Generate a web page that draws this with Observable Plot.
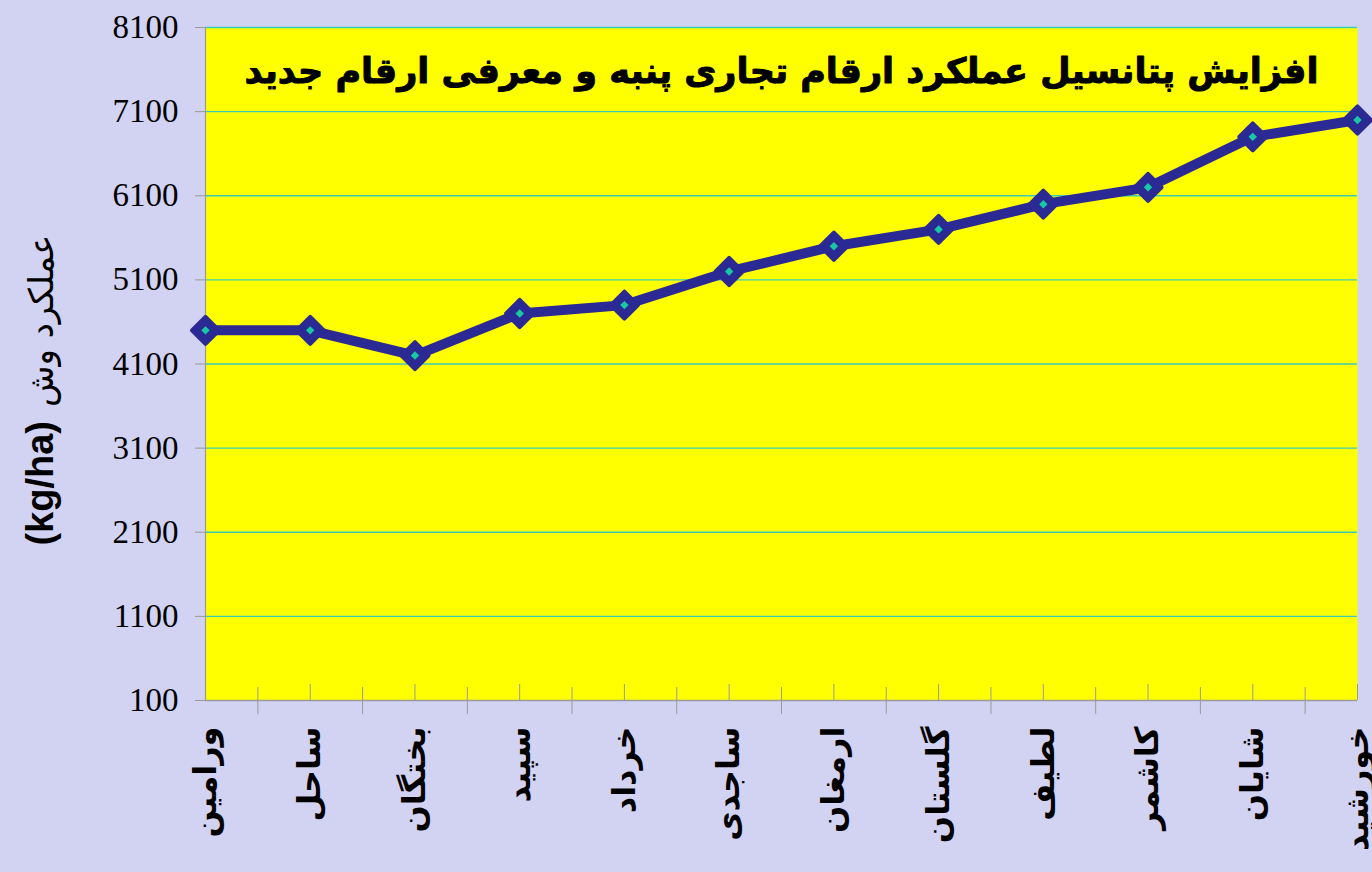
<!DOCTYPE html>
<html>
<head>
<meta charset="utf-8">
<script src="https://cdn.jsdelivr.net/npm/d3@7"></script>
<script src="https://cdn.jsdelivr.net/npm/@observablehq/plot@0.6"></script>
<style>
  html, body { margin: 0; padding: 0; background: #d2d2f3; }
  #wrap { position: relative; width: 1372px; height: 872px; overflow: hidden; }
  #ylabel {
    position: absolute; left: 40px; top: 390px;
    transform: translate(-50%, -50%) rotate(-90deg);
    white-space: nowrap; color: #000; direction: ltr;
  }
  #ylabel .en { font-family: "Liberation Sans", Arial, sans-serif; font-weight: bold; font-size: 38px; }
  #ylabel .fa { font-family: "DejaVu Sans", sans-serif; font-size: 34px; margin-left: 10px; }
</style>
</head>
<body>
<div id="wrap">
  <div id="chart"></div>
  <div id="ylabel"><span class="en">(kg/ha)</span> <span class="fa">عملکرد وش</span></div>
</div>
<script>
const categories = ["ورامین","ساحل","بختگان","سپید","خرداد","ساجدی","ارمغان","گلستان","لطیف","کاشمر","شایان","خورشید"];
const yields = [4500, 4500, 4200, 4700, 4800, 5200, 5500, 5700, 6000, 6200, 6800, 7000];
const yTicks = [100, 1100, 2100, 3100, 4100, 5100, 6100, 7100, 8100];
const titleText = "افزایش پتانسیل عملکرد ارقام تجاری پنبه و معرفی ارقام جدید";

const data = categories.map((c, i) => ({i, c, v: yields[i]}));
const idx = categories.map((c, i) => i);
const mids = idx.slice(1).map(i => i - 0.5);

const navy = "#2b2a94";
const teal = "#18c8a4";
const grid = "#3ccbb4";
const gray = "#9a9a9a";

const chart = Plot.plot({
  width: 1372,
  height: 872,
  marginLeft: 205,
  marginRight: 15,
  marginTop: 27,
  marginBottom: 172,
  style: {background: "transparent", fontFamily: "'Liberation Serif', serif", color: "#000"},
  x: {type: "linear", domain: [0, categories.length - 1]},
  y: {domain: [yTicks[0], yTicks[yTicks.length - 1]]},
  marks: [
    Plot.frame({fill: "#ffff00", stroke: null}),
    Plot.gridY(yTicks.slice(1), {stroke: grid, strokeOpacity: 1, strokeWidth: 1.3}),
    Plot.ruleX([0], {stroke: gray, strokeWidth: 1.2}),
    Plot.ruleY([yTicks[0]], {stroke: gray, strokeWidth: 1.5}),
    Plot.axisY({ticks: yTicks, tickSize: 10, tickPadding: 17, stroke: gray, fill: "#000",
      fontSize: 33, fontFamily: "'Liberation Serif', serif", tickFormat: d => String(d), label: null}),
    Plot.axisX({ticks: idx, tickSize: -16, stroke: gray, tickFormat: () => "", label: null}),
    Plot.axisX({ticks: mids, tickSize: -13, stroke: gray, tickFormat: () => "", label: null}),
    Plot.axisX({ticks: mids, tickSize: 14, stroke: gray, tickFormat: () => "", label: null}),
    Plot.axisX({ticks: idx, tickSize: 0, tickPadding: 26, tickRotate: -90, tickFormat: i => categories[i],
      fontSize: 32, fontWeight: "bold", fontFamily: "'DejaVu Sans', sans-serif", fill: "#000", label: null}),
    Plot.line(data, {x: "i", y: "v", stroke: navy, strokeWidth: 10, strokeLinejoin: "round", strokeLinecap: "round"}),
    Plot.dot(data, {x: "i", y: "v", symbol: "diamond2", r: 12.2, fill: navy, stroke: navy, strokeWidth: 4, strokeLinejoin: "round"}),
    Plot.dot(data, {x: "i", y: "v", symbol: "diamond2", r: 3.8, fill: teal, stroke: null}),
    Plot.text([titleText], {frameAnchor: "top", dy: 44, lineAnchor: "middle", fontSize: 35, fontWeight: "bold",
      fontFamily: "'DejaVu Sans', sans-serif", fill: "#000", stroke: "#000", strokeWidth: 1})
  ]
});
document.getElementById("chart").appendChild(chart);
</script>
</body>
</html>
